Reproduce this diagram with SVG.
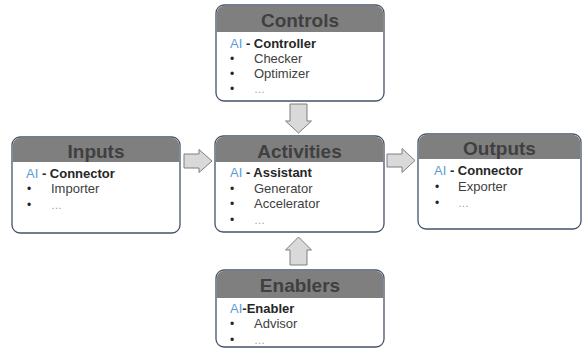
<svg xmlns="http://www.w3.org/2000/svg" width="583" height="348" viewBox="0 0 583 348">
  <style>
    .box { fill: #ffffff; stroke: #44546a; stroke-width: 1.3; }
    .head { fill: #7f7f7f; }
    .title { font-family: "Liberation Sans", Arial, sans-serif; font-weight: bold; font-size: 19px; fill: #404040; text-anchor: middle; }
    .ai { font-family: "Liberation Sans", Arial, sans-serif; font-size: 13px; fill: #5b9bd5; }
    .role { font-family: "Liberation Sans", Arial, sans-serif; font-weight: bold; font-size: 13px; fill: #262626; }
    .bullet { font-family: "Liberation Sans", Arial, sans-serif; font-size: 12px; fill: #262626; }
    .item { font-family: "Liberation Sans", Arial, sans-serif; font-size: 13px; fill: #404040; }
    .more { font-family: "Liberation Sans", Arial, sans-serif; font-size: 11px; fill: #9a9a9a; }
    .arrow { fill: #d9d9d9; stroke: #7f7f7f; stroke-width: 1; }
  </style>

  <!-- Controls -->
  <g id="controls">
    <rect class="box" x="216" y="5" width="168" height="96" rx="8"/>
    <path class="head" d="M216.7,32 V13 A8,8 0 0 1 224,5.7 H376 A8,8 0 0 1 383.3,13 V32 Z"/>
    <text class="title" x="300" y="27">Controls</text>
    <text x="230" y="48"><tspan class="ai">AI</tspan><tspan class="role"> - Controller</tspan></text>
    <text class="bullet" x="230" y="63">•</text><text class="item" x="254" y="63">Checker</text>
    <text class="bullet" x="230" y="78">•</text><text class="item" x="254" y="78">Optimizer</text>
    <text class="bullet" x="230" y="93">•</text><text class="more" x="254" y="93">…</text>
  </g>

  <!-- Inputs -->
  <g id="inputs">
    <rect class="box" x="12" y="137" width="168" height="96" rx="8"/>
    <path class="head" d="M12.7,162 V145 A8,8 0 0 1 20,137.7 H172 A8,8 0 0 1 179.3,145 V162 Z"/>
    <text class="title" x="96" y="158">Inputs</text>
    <text x="26" y="178"><tspan class="ai">AI</tspan><tspan class="role"> - Connector</tspan></text>
    <text class="bullet" x="27" y="193">•</text><text class="item" x="51" y="193">Importer</text>
    <text class="bullet" x="27" y="209">•</text><text class="more" x="51" y="209">…</text>
  </g>

  <!-- Activities -->
  <g id="activities">
    <rect class="box" x="215" y="136" width="169" height="96" rx="8"/>
    <path class="head" d="M215.7,162 V144 A8,8 0 0 1 223,136.7 H376 A8,8 0 0 1 383.3,144 V162 Z"/>
    <text class="title" x="299.5" y="158">Activities</text>
    <text x="230" y="177"><tspan class="ai">AI</tspan><tspan class="role"> - Assistant</tspan></text>
    <text class="bullet" x="230" y="193">•</text><text class="item" x="254" y="193">Generator</text>
    <text class="bullet" x="230" y="208">•</text><text class="item" x="254" y="208">Accelerator</text>
    <text class="bullet" x="230" y="224">•</text><text class="more" x="254" y="224">…</text>
  </g>

  <!-- Outputs -->
  <g id="outputs">
    <rect class="box" x="418" y="134" width="163" height="95" rx="8"/>
    <path class="head" d="M418.7,159 V142 A8,8 0 0 1 426,134.7 H573 A8,8 0 0 1 580.3,142 V159 Z"/>
    <text class="title" x="499.5" y="155">Outputs</text>
    <text x="434" y="175"><tspan class="ai">AI</tspan><tspan class="role"> - Connector</tspan></text>
    <text class="bullet" x="435" y="191">•</text><text class="item" x="458" y="191">Exporter</text>
    <text class="bullet" x="435" y="207">•</text><text class="more" x="458" y="207">…</text>
  </g>

  <!-- Enablers -->
  <g id="enablers">
    <rect class="box" x="216" y="270" width="168" height="77" rx="8"/>
    <path class="head" d="M216.7,298 V278 A8,8 0 0 1 224,270.7 H376 A8,8 0 0 1 383.3,278 V298 Z"/>
    <text class="title" x="300" y="292">Enablers</text>
    <text x="230" y="313"><tspan class="ai">AI</tspan><tspan class="role">-Enabler</tspan></text>
    <text class="bullet" x="230" y="328">•</text><text class="item" x="254" y="328">Advisor</text>
    <text class="bullet" x="230" y="344">•</text><text class="more" x="254" y="344">…</text>
  </g>

  <!-- Block arrows between the boxes -->
  <g id="connectors">
    <path class="arrow" d="M184,154 H199 V149.5 L212,161 L199,172.5 V168 H184 Z"/>
    <path class="arrow" d="M387,154 H402 V148.5 L415,160.5 L402,172.5 V167 H387 Z"/>
    <path class="arrow" d="M290,104 H307 V121 H311.5 L298.5,133 L285.5,121 H290 Z"/>
    <path class="arrow" d="M290,265 H307 V250 H311.5 L298.5,237 L285.5,250 H290 Z"/>
  </g>
</svg>
